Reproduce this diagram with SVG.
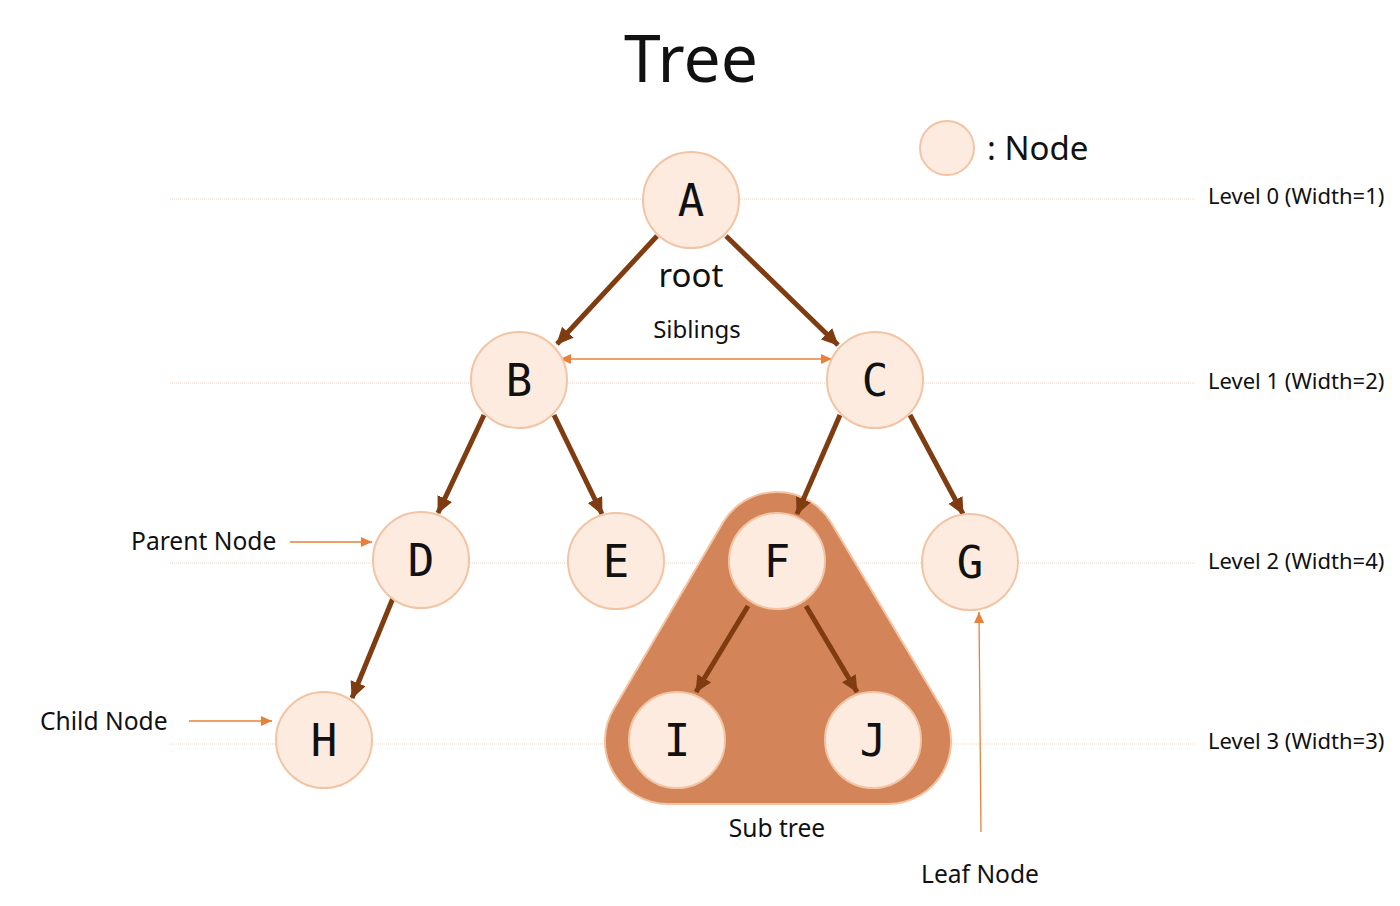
<svg xmlns="http://www.w3.org/2000/svg" width="1400" height="906" viewBox="0 0 1400 906">
<style>
.lvl{stroke:#EFD3C0;stroke-width:1;stroke-dasharray:1 1;fill:none}
.node circle{fill:#FDEBDF;stroke:#F2C4A4;stroke-width:2}
.node text{font-family:"DejaVu Sans Mono",monospace;font-size:44px;fill:#111;text-anchor:middle}
.edge{stroke:#7E3C10;stroke-width:5;fill:none;marker-end:url(#ah)}
.pt{stroke:#E8803A;stroke-width:1.3;fill:none}
.lbl{font-family:"Noto Sans",sans-serif;fill:#111}
</style>
<defs>
<marker id="ah" markerUnits="userSpaceOnUse" markerWidth="20" markerHeight="18" refX="16" refY="8" orient="auto">
<path d="M0,0 L17,8 L0,16 Z" fill="#7E3C10"/>
</marker>
<marker id="oa" markerUnits="userSpaceOnUse" markerWidth="14" markerHeight="12" refX="11" refY="5" orient="auto-start-reverse">
<path d="M0,0 L11,5 L0,10 Z" fill="#E8803A"/>
</marker>
</defs>
<rect width="1400" height="906" fill="#fff"/>
<g id="levels">
<line class="lvl" x1="170" y1="199" x2="1195" y2="199"/>
<line class="lvl" x1="170" y1="383" x2="1195" y2="383"/>
<line class="lvl" x1="170" y1="563" x2="1195" y2="563"/>
<line class="lvl" x1="170" y1="744" x2="1195" y2="744"/>
</g>
<text class="lbl" x="691" y="82" font-size="66" text-anchor="middle">Tree</text>
<g id="legend">
<circle cx="947" cy="148" r="27" fill="#FDEBDF" stroke="#F2C4A4" stroke-width="2"/>
<text class="lbl" x="987" y="160" font-size="33">: Node</text>
</g>
<g id="subtree">
<path d="M723.1,522.3 A63,63 0 0 1 830.9,522.3 L941.9,708.3 A63,63 0 0 1 888,804 L668,804 A63,63 0 0 1 614.1,708.3 Z" fill="#D38458" stroke="#F3C3A2" stroke-width="2"/>
</g>
<g id="connectors">
<line class="edge" x1="657" y1="236" x2="557" y2="344"/>
<line class="edge" x1="726" y1="236" x2="838" y2="345"/>
<line class="edge" x1="484" y1="415" x2="438" y2="513"/>
<line class="edge" x1="554" y1="415" x2="602" y2="514"/>
<line class="edge" x1="840" y1="415" x2="797" y2="514"/>
<line class="edge" x1="910" y1="415" x2="963" y2="514"/>
<line class="edge" x1="393" y1="598" x2="352" y2="698"/>
<line class="edge" x1="748" y1="606" x2="696" y2="692"/>
<line class="edge" x1="806" y1="606" x2="857" y2="692"/>
<line class="pt" x1="560" y1="359" x2="832" y2="359" marker-start="url(#oa)" marker-end="url(#oa)"/>
<line class="pt" x1="290" y1="542" x2="372" y2="542" marker-end="url(#oa)"/>
<line class="pt" x1="189" y1="721" x2="272" y2="721" marker-end="url(#oa)"/>
<line class="pt" x1="981" y1="832" x2="979" y2="612" marker-end="url(#oa)"/>
</g>
<g id="node-A" class="node"><circle cx="691" cy="200" r="48"/><text x="691" y="216">A</text></g>
<g id="node-B" class="node"><circle cx="519" cy="380" r="48"/><text x="519" y="396">B</text></g>
<g id="node-C" class="node"><circle cx="875" cy="380" r="48"/><text x="875" y="396">C</text></g>
<g id="node-D" class="node"><circle cx="421" cy="560" r="48"/><text x="421" y="576">D</text></g>
<g id="node-E" class="node"><circle cx="616" cy="561" r="48"/><text x="616" y="577">E</text></g>
<g id="node-F" class="node"><circle cx="777" cy="561" r="48"/><text x="777" y="577">F</text></g>
<g id="node-G" class="node"><circle cx="970" cy="562" r="48"/><text x="970" y="578">G</text></g>
<g id="node-H" class="node"><circle cx="324" cy="740" r="48"/><text x="324" y="756">H</text></g>
<g id="node-I" class="node"><circle cx="677" cy="740" r="48"/><text x="677" y="756">I</text></g>
<g id="node-J" class="node"><circle cx="873" cy="740" r="48"/><text x="873" y="756">J</text></g>
<g id="labels">
<text class="lbl" x="691" y="287" font-size="33" text-anchor="middle">root</text>
<text class="lbl" x="697" y="338" font-size="24" text-anchor="middle">Siblings</text>
<text class="lbl" x="131" y="550" font-size="24.6">Parent Node</text>
<text class="lbl" x="40" y="730" font-size="24.6">Child Node</text>
<text class="lbl" x="777" y="837" font-size="24.6" text-anchor="middle">Sub tree</text>
<text class="lbl" x="980" y="883" font-size="24.6" text-anchor="middle">Leaf Node</text>
<text class="lbl" x="1208" y="204" font-size="22" fill="#222">Level 0 (Width=1)</text>
<text class="lbl" x="1208" y="389" font-size="22" fill="#222">Level 1 (Width=2)</text>
<text class="lbl" x="1208" y="569" font-size="22" fill="#222">Level 2 (Width=4)</text>
<text class="lbl" x="1208" y="749" font-size="22" fill="#222">Level 3 (Width=3)</text>
</g>
</svg>
